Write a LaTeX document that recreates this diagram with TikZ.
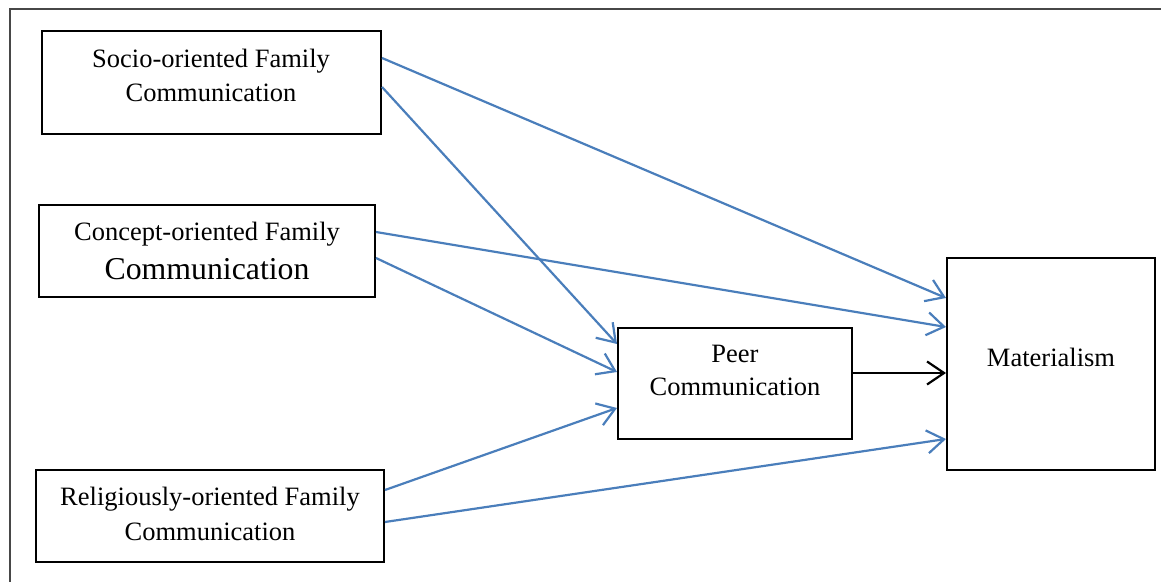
\documentclass[tikz,border=0pt]{standalone}
\usepackage{fontspec}
\setmainfont{Liberation Serif}
\usetikzlibrary{arrows.meta}
\definecolor{arrblue}{HTML}{4A7EBB}
\definecolor{framegray}{HTML}{474747}
\tikzset{
  box/.style={draw=black, line width=1pt, rectangle, inner sep=0pt},
  txt/.style={align=center, inner sep=0pt, anchor=base, font=\fontsize{13.25}{17}\selectfont},
  barrow/.style={draw=arrblue, line width=1.1pt, -{Straight Barb[length=8.5pt,width=11.5pt,line width=1.1pt]}},
  karrow/.style={draw=black, line width=1.1pt, -{Straight Barb[length=8.5pt,width=11.5pt,line width=1.1pt]}}
}
\begin{document}
\begin{tikzpicture}[x=0.5pt,y=-0.5pt]
\useasboundingbox (0,0) rectangle (1161,582);
\draw[framegray, line width=1.2pt] (10,582) -- (10,9) -- (1161,9);
% boxes
\node[box, minimum width=169.5pt, minimum height=51.5pt] (socio) at (211.5,82.5) {};
\node[box, minimum width=168pt, minimum height=46pt] (concept) at (207,251) {};
\node[box, minimum width=174pt, minimum height=46pt] (relig) at (210,516) {};
\node[box, minimum width=117pt, minimum height=55.5pt] (peer) at (735,383.5) {};
\node[box, minimum width=104pt, minimum height=106pt] (mat) at (1051,364) {};
% texts (anchor base = baseline of last line)
\node[txt] (sociotxt) at (211,101.7) {Socio-oriented Family\\Communication};
\node[txt, font=\fontsize{13.25}{19.5}\selectfont] (concepttxt) at (207,280) {Concept-oriented Family\\{\fontsize{15.9}{19.5}\selectfont Communication}};
\node[txt, font=\fontsize{13.25}{17.8}\selectfont] (religtxt) at (210,540.7) {Religiously-oriented Family\\Communication};
\node[txt, font=\fontsize{13.25}{16.2}\selectfont] (peertxt) at (735,395) {Peer\\Communication};
\node[txt] (mattxt) at (1051,367) {Materialism};
% connectors
\draw[barrow] ([yshift=-14pt]socio.north east) -- ([yshift=-20.5pt]mat.north west);
\draw[barrow] ([yshift=-28.5pt]socio.north east) -- ([yshift=-8.5pt]peer.north west);
\draw[barrow] ([yshift=-14pt]concept.north east) -- ([yshift=-35pt]mat.north west);
\draw[barrow] ([yshift=-27pt]concept.north east) -- ([yshift=-22.5pt]peer.north west);
\draw[barrow] ([yshift=-10.5pt]relig.north east) -- ([yshift=-40.5pt]peer.north west);
\draw[barrow] ([yshift=-26.5pt]relig.north east) -- ([yshift=-91pt]mat.north west);
\draw[karrow] ([yshift=-23pt]peer.north east) -- ([yshift=-58pt]mat.north west);
\end{tikzpicture}
\end{document}
